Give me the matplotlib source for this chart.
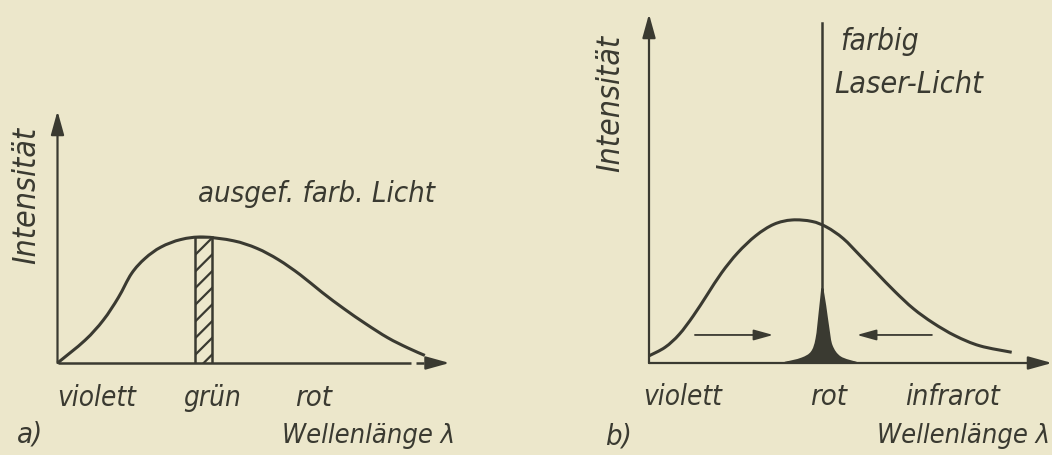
import numpy as np
import matplotlib
matplotlib.use("Agg")
import matplotlib.pyplot as plt
from matplotlib.path import Path
from matplotlib.patches import PathPatch

# ---- data -------------------------------------------------------------
# a) broad spectrum of filtered coloured light (wavelength, intensity)
spec_a_x = [0.0, 0.69, 1.15, 1.53, 1.86, 2.20, 2.60, 3.10, 3.66,
            4.42, 5.01, 5.55, 6.10, 6.65, 7.20, 7.75, 8.30, 8.80, 9.23]
spec_a_y = [0.0, 0.18, 0.34, 0.52, 0.71, 0.83, 0.92, 0.98, 1.00,
            0.97, 0.91, 0.82, 0.70, 0.56, 0.43, 0.31, 0.20, 0.12, 0.06]
filter_band = (3.45, 3.88)       # hatched filter window
filter_height = 1.00

# b) broad spectrum vs. narrow laser line
spec_b_x = [0.0, 0.40, 0.75, 1.10, 1.45, 1.80, 2.20, 2.65, 3.10, 3.55, 4.04,
            4.41, 4.82, 5.24, 5.65, 6.10, 6.56, 7.05, 7.60, 8.21, 9.00]
spec_b_y = [0.05, 0.11, 0.20, 0.33, 0.48, 0.63, 0.77, 0.89, 0.97, 1.00, 0.99,
            0.95, 0.87, 0.75, 0.63, 0.50, 0.38, 0.28, 0.19, 0.12, 0.075]
laser_left_x = [3.37, 3.79, 4.04, 4.16, 4.24, 4.30]
laser_left_y = [0.0, 0.03, 0.075, 0.17, 0.36, 0.52]
laser_right_x = [4.30, 4.37, 4.45, 4.53, 4.74, 5.15]
laser_right_y = [0.52, 0.40, 0.24, 0.12, 0.04, 0.0]
laser_center = 4.30
laser_top = 2.38

labels_a = ["violett", "grün", "rot"]
labels_b = ["violett", "rot", "infrarot"]

# ---- style ------------------------------------------------------------
BG = "#ece7cb"
INK = "#3a3a31"
FONT = ["DejaVu Sans"]
plt.rcParams["hatch.color"] = INK
plt.rcParams["hatch.linewidth"] = 1.6

W, H = 1052, 456
fig = plt.figure(figsize=(W / 100, H / 100), dpi=100, facecolor=BG)


def smooth(xs, ys):
    """Catmull-Rom curve through the points, as cubic Bezier segments."""
    p = np.column_stack([xs, ys]).astype(float)
    verts, codes = [p[0]], [Path.MOVETO]
    n = len(p)
    for i in range(n - 1):
        p0 = p[i - 1] if i > 0 else p[i]
        p1, p2 = p[i], p[i + 1]
        p3 = p[i + 2] if i + 2 < n else p[i + 1]
        verts += [p1 + (p2 - p0) / 6, p2 - (p3 - p1) / 6, p2]
        codes += [Path.CURVE4] * 3
    return verts, codes


def add_axes_px(x0, y0, w, h):
    ax = fig.add_axes([x0 / W, 1 - y0 / H, w / W, h / H])
    ax.set_axis_off()
    ax.patch.set_alpha(0)
    return ax


def txt(x, y, s, size=21, ha="left", va="baseline", rot=0):
    fig.text(x / W, 1 - y / H, s, family=FONT, style="italic", fontsize=size,
             fontstretch="condensed", color=INK, ha=ha, va=va, rotation=rot)


def arrow(ax, start, end, lw=1.6, scale=16):
    ax.annotate("", xy=end, xytext=start, annotation_clip=False,
                arrowprops=dict(arrowstyle="-|>,head_length=0.9,head_width=0.25",
                                color=INK, lw=lw, mutation_scale=scale,
                                shrinkA=0, shrinkB=0))


# ---- panel a ----------------------------------------------------------
ya_top = 2.0
axa = add_axes_px(57.5, 364, 398, 252)
axa.set_xlim(0, 10)
axa.set_ylim(0, ya_top)
arrow(axa, (0, 0), (0, ya_top))
axa.plot([0, 8.87], [0, 0], color=INK, lw=1.8, clip_on=False, solid_capstyle="butt")
axa.plot([9.0, 9.2], [0, 0], color=INK, lw=1.8, clip_on=False, solid_capstyle="butt")
arrow(axa, (9.4, 0), (9.85, 0))
v, c = smooth(spec_a_x, spec_a_y)
axa.add_patch(PathPatch(Path(v, c), fill=False, edgecolor=INK, lw=2.2, clip_on=False))
axa.bar([(filter_band[0] + filter_band[1]) / 2], [filter_height],
        width=filter_band[1] - filter_band[0], facecolor=BG, edgecolor=INK,
        hatch="//", lw=1.8, zorder=3)

txt(198, 202, "ausgef. farb. Licht")
txt(27, 195, "Intensität", size=23, ha="center", va="center", rot=90)
txt(57, 406, labels_a[0], size=20)
txt(183, 406, labels_a[1], size=20)
txt(295, 406, labels_a[2])
txt(17, 443, "a)")
txt(455, 443, "Wellenlänge λ", size=19.5, ha="right")

# ---- panel b ----------------------------------------------------------
yb_top = 2.44
axb = add_axes_px(649, 364, 403, 349)
axb.set_xlim(0, 10)
axb.set_ylim(0, yb_top)
arrow(axb, (0, 0), (0, yb_top))
arrow(axb, (0, 0), (10, 0))
v, c = smooth(spec_b_x, spec_b_y)
axb.add_patch(PathPatch(Path(v, c), fill=False, edgecolor=INK, lw=2.2, clip_on=False))

# laser line: narrow peak filled, then the thin spike up
lv, lc = smooth(laser_left_x, laser_left_y)
rv, rc = smooth(laser_right_x, laser_right_y)
peak_verts = lv + rv[1:] + [lv[0]]
peak_codes = lc + rc[1:] + [Path.CLOSEPOLY]
axb.add_patch(PathPatch(Path(peak_verts, peak_codes), facecolor=INK, edgecolor=INK, lw=1.6))
axb.plot([laser_center, laser_center], [0, laser_top], color=INK, lw=1.8)

arrow(axb, (1.14, 0.196), (3.08, 0.196), lw=1.3, scale=13)
arrow(axb, (7.02, 0.196), (5.16, 0.196), lw=1.3, scale=13)

txt(840, 50, "farbig", size=21.5)
txt(834, 93, "Laser-Licht", size=22)
txt(611, 103, "Intensität", size=23, ha="center", va="center", rot=90)
txt(643, 405, labels_b[0], size=20)
txt(810, 405, labels_b[1])
txt(905, 405, labels_b[2], size=20.5)
txt(605, 445, "b)")
txt(1050, 443, "Wellenlänge λ", size=19.5, ha="right")

fig.savefig("out.png", dpi=100, facecolor=BG)
